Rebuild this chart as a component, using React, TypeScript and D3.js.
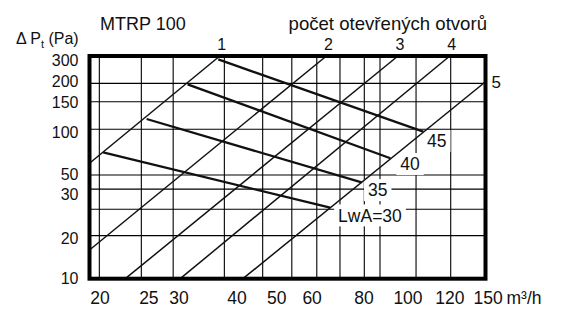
import React from 'react';
import * as d3 from 'd3';

// ---- texts ----
const chartTitle = 'MTRP 100';
const openingsTitle = 'počet otevřených otvorů';
const unitX = 'm³/h';

// ---- axes ----
const xGridValues = [20, 24.9, 29.4, 38.4, 46.9, 54.6, 62.2, 70.2, 79.7, 86.5, 104.4, 125.1];
const yGridValues = [197.6, 149.1, 97.9, 48.7, 39.3, 28.9, 19.3];
const xTickLabels = ['20', '25', '30', '40', '50', '60', '80', '100', '120', '150'];
const xTickAt = [20.07, 25.9, 30.3, 41.0, 50.5, 60.7, 79.6, 100.1, 124.6, 152];
const yTickLabels = ['300', '200', '150', '100', '50', '30', '20', '10'];
const yTickAt = [280, 203, 147.4, 93.2, 49.1, 36.4, 18.6, 10];

// ---- number of open openings (pressure lines) ----
const openings = ['1', '2', '3', '4', '5'];
const openingQStart = [19, 19, 22.9, 30.5, 42.3];
const openingPStart = [58.3, 15.5, 10, 10, 10];
const openingQEnd = [37.5, 65.4, 95.0, 124.5, 150];
const openingPEnd = [300, 300, 300, 300, 202.5];

// ---- sound power level lines ----
const lwaLabels = ['LwA=30', '35', '40', '45'];
const lwaQStart = [20.4, 25.6, 31.7, 37.2];
const lwaPStart = [68.9, 114.6, 194.6, 285];
const lwaQEnd = [66.7, 78.6, 91.3, 108.4];
const lwaPEnd = [29.6, 43.6, 62.9, 94.4];
const lwaLabelQ = [82.1, 85.5, 101.2, 116.3];
const lwaLabelP = [26.3, 38.7, 57.6, 81.9];

const W = 566;
const H = 317;
const FONT = '"Liberation Sans", Arial, Helvetica, sans-serif';

const x = d3.scaleLog().domain([19, 150]).range([89.5, 485.5]);
const y = d3.scaleLog().domain([10, 300]).range([278.7, 56]);

let ctx: CanvasRenderingContext2D | null = null;
function textWidth(t: string, size: number) {
  if (!ctx) ctx = document.createElement('canvas').getContext('2d');
  if (!ctx) return t.length * size * 0.55;
  ctx.font = `${size}px "Liberation Sans", Arial, sans-serif`;
  return ctx.measureText(t).width;
}

export default function App() {
  const line = d3
    .line<[number, number]>()
    .x((d) => x(d[0]))
    .y((d) => y(d[1]));

  const lwaFont = 17.5;

  return (
    <svg
      width={W}
      height={H}
      style={{ position: 'absolute', left: 0, top: 0, background: '#fff' }}
      fontFamily={FONT}
    >
      <rect x={0} y={0} width={W} height={H} fill="#fff" />
      {/* grid */}
      <g stroke="#000" strokeWidth={1.1}>
        {xGridValues.map((v, i) => (
          <line key={'gx' + i} x1={x(v)} x2={x(v)} y1={y(300)} y2={y(10)} />
        ))}
        {yGridValues.map((v, i) => (
          <line key={'gy' + i} x1={x(19)} x2={x(150)} y1={y(v)} y2={y(v)} />
        ))}
      </g>

      {/* white boxes behind LwA labels */}
      {lwaLabels.map((t, i) => {
        const w = textWidth(t, lwaFont);
        const cx = x(lwaLabelQ[i]);
        const cy = y(lwaLabelP[i]);
        return (
          <rect
            key={'lb' + i}
            x={cx - w / 2 - 4}
            y={cy - 11}
            width={w + 8}
            height={22}
            fill="#fff"
          />
        );
      })}

      {/* opening lines */}
      <g fill="none" stroke="#111" strokeWidth={1.5}>
        {openings.map((o, i) => (
          <path
            key={'o' + i}
            d={
              line([
                [openingQStart[i], openingPStart[i]],
                [openingQEnd[i], openingPEnd[i]],
              ]) || ''
            }
          />
        ))}
      </g>

      {/* LwA lines */}
      <g fill="none" stroke="#111" strokeWidth={2.3}>
        {lwaLabels.map((t, i) => (
          <path
            key={'l' + i}
            d={
              line([
                [lwaQStart[i], lwaPStart[i]],
                [lwaQEnd[i], lwaPEnd[i]],
              ]) || ''
            }
          />
        ))}
      </g>

      {/* frame */}
      <rect
        x={x(19)}
        y={y(300)}
        width={x(150) - x(19)}
        height={y(10) - y(300)}
        fill="none"
        stroke="#000"
        strokeWidth={4}
      />

      {/* LwA labels */}
      {lwaLabels.map((t, i) => (
        <text
          key={'lt' + i}
          x={x(lwaLabelQ[i])}
          y={y(lwaLabelP[i])}
          dy="0.36em"
          textAnchor="middle"
          fontSize={lwaFont}
          fill="#111"
        >
          {t}
        </text>
      ))}

      {/* opening labels */}
      {openings.map((o, i) =>
        openingPEnd[i] >= 300 ? (
          <text
            key={'ot' + i}
            x={x(openingQEnd[i]) + 2}
            y={y(300) - 6}
            textAnchor="middle"
            fontSize={16}
            fill="#111"
          >
            {o}
          </text>
        ) : (
          <text
            key={'ot' + i}
            x={x(openingQEnd[i]) + 6}
            y={y(openingPEnd[i])}
            dy="0.36em"
            textAnchor="start"
            fontSize={17}
            fill="#111"
          >
            {o}
          </text>
        )
      )}

      {/* y tick labels */}
      {yTickLabels.map((t, i) => (
        <text
          key={'yt' + i}
          x={78.5}
          y={y(yTickAt[i])}
          dy="0.36em"
          textAnchor="end"
          fontSize={16}
          fill="#111"
        >
          {t}
        </text>
      ))}

      {/* x tick labels */}
      {xTickLabels.map((t, i) => (
        <text
          key={'xt' + i}
          x={x(xTickAt[i])}
          y={303.5}
          textAnchor="middle"
          fontSize={17.5}
          fill="#111"
        >
          {t}
        </text>
      ))}
      <text x={506.5} y={303.5} fontSize={17.5} fill="#111">
        {unitX}
      </text>

      {/* titles */}
      <text x={100} y={29.5} fontSize={18} fill="#111">
        {chartTitle}
      </text>
      <text x={487} y={30} textAnchor="end" fontSize={18.6} fill="#111">
        {openingsTitle}
      </text>
      <text x={16} y={43.5} fontSize={16} fill="#111">
        <tspan>Δ P</tspan>
        <tspan fontSize={11} dy={4}>t</tspan>
        <tspan dy={-4}> (Pa)</tspan>
      </text>
    </svg>
  );
}
